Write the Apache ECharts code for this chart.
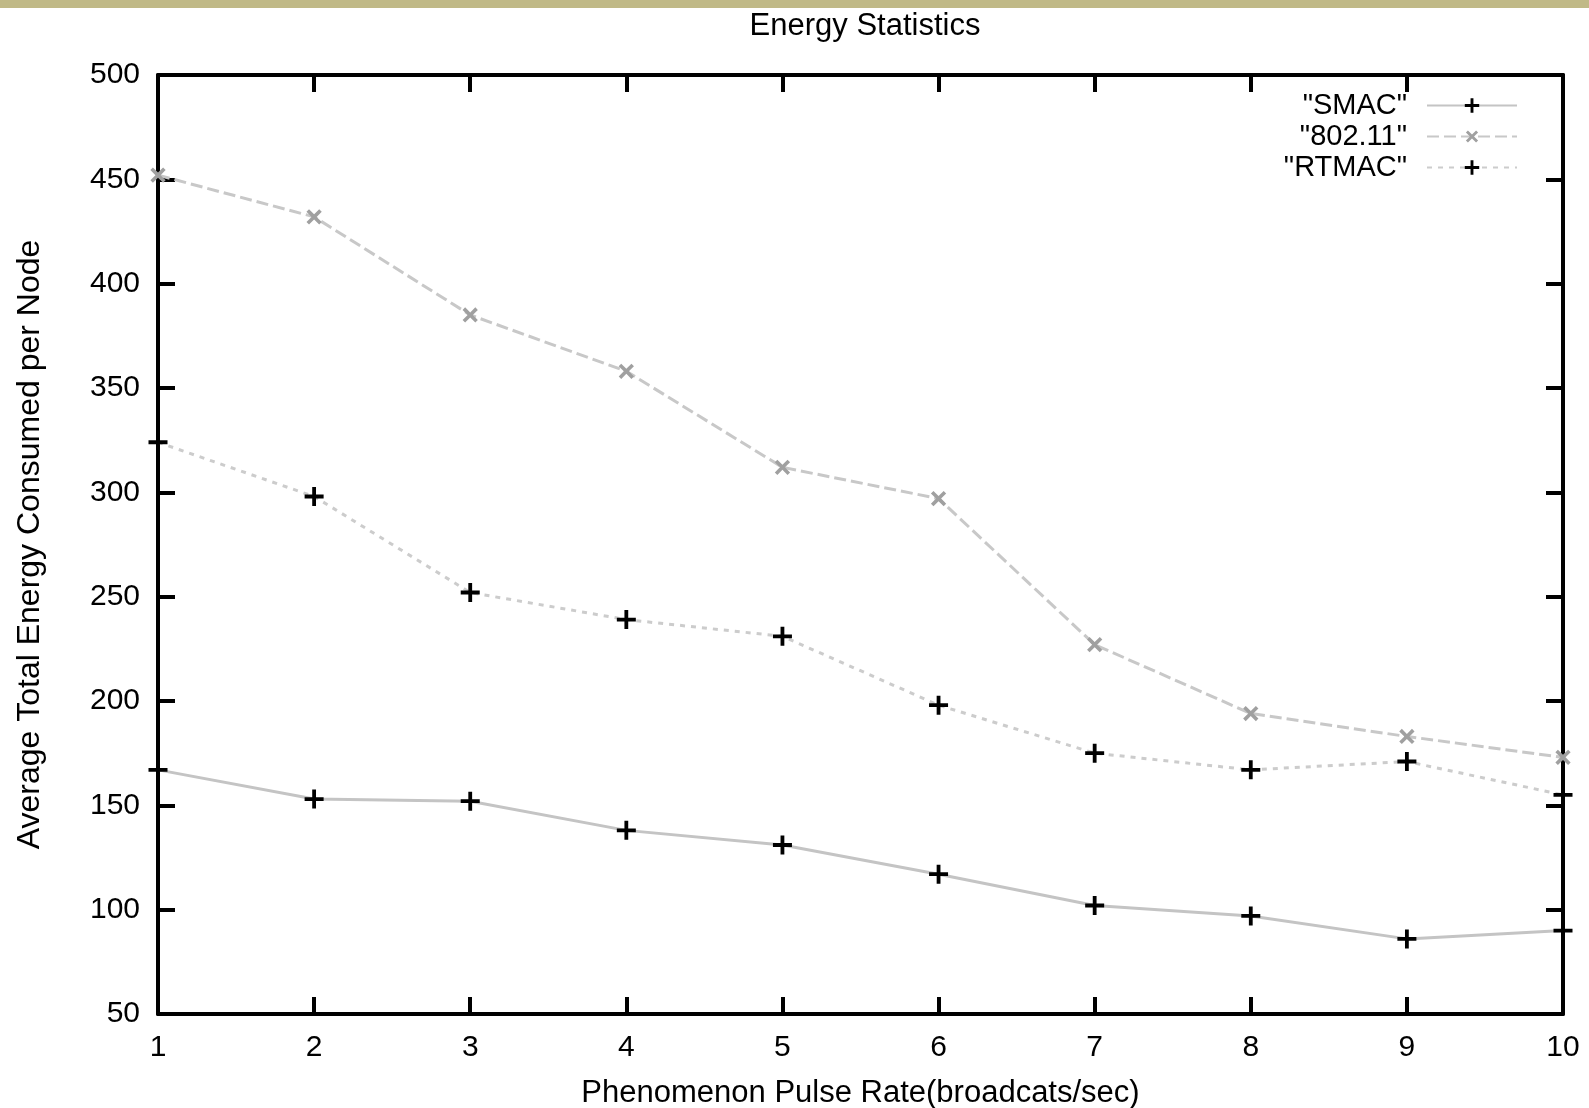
<!DOCTYPE html>
<html>
<head>
<meta charset="utf-8">
<script src="https://cdn.jsdelivr.net/npm/echarts@6/dist/echarts.min.js"></script>
<style>
html,body{margin:0;padding:0;background:#fff;}
#chart{width:1589px;height:1108px;}
</style>
</head>
<body>
<div id="chart"></div>
<script>
const xValues = [1, 2, 3, 4, 5, 6, 7, 8, 9, 10];
const smac = [167, 153, 152, 138, 131, 117, 102, 97, 86, 90];
const ieee80211 = [452, 432, 385, 358, 312, 297, 227, 194, 183, 173];
const rtmac = [324, 298, 252, 239, 231, 198, 175, 167, 171, 155];
const seriesNames = ['"SMAC"', '"802.11"', '"RTMAC"'];

const FONT = 'Liberation Sans, Arial, sans-serif';
const PLUS = 'path://M4,0H6V4H10V6H6V10H4V6H0V4H4Z';
const pairs = arr => xValues.map((x, i) => [x, arr[i]]);

const chart = echarts.init(document.getElementById('chart'), null, {renderer: 'canvas'});

const axisCommon = {
  axisLine: {show: true, lineStyle: {color: '#000', width: 4}},
  axisTick: {show: true, inside: true, length: 17, lineStyle: {color: '#000', width: 4}},
  splitLine: {show: false}
};

chart.setOption({
  animation: false,
  backgroundColor: '#fff',
  graphic: [{
    type: 'rect', left: 0, top: 0,
    shape: {width: 1589, height: 8},
    style: {fill: '#c0b987'}, silent: true
  }],
  title: {
    text: 'Energy Statistics',
    left: 860, top: 6, textAlign: 'center',
    textStyle: {fontFamily: FONT, fontSize: 31, fontWeight: 'normal', color: '#000'}
  },
  legend: {
    orient: 'vertical',
    right: 66, top: 86,
    align: 'right',
    itemWidth: 90, itemHeight: 18, itemGap: 2,
    textStyle: {fontFamily: FONT, fontSize: 29, color: '#000', padding: [0, 15, 0, 0]},
    data: seriesNames
  },
  grid: {left: 158, right: 26, top: 75, bottom: 94, containLabel: false, outerBoundsMode: 'none'},
  xAxis: [
    Object.assign({
      type: 'value', min: 1, max: 10, interval: 1, position: 'bottom',
      name: 'Phenomenon Pulse Rate(broadcats/sec)', nameLocation: 'middle', nameGap: 64,
      nameTextStyle: {fontFamily: FONT, fontSize: 31, color: '#000'},
      axisLabel: {fontFamily: FONT, fontSize: 30, color: '#000', margin: 19}
    }, axisCommon),
    Object.assign({
      type: 'value', min: 1, max: 10, interval: 1, position: 'top',
      axisLabel: {show: false}
    }, axisCommon)
  ],
  yAxis: [
    Object.assign({
      type: 'value', min: 50, max: 500, interval: 50, position: 'left',
      name: 'Average Total Energy Consumed per Node', nameLocation: 'middle', nameGap: 112,
      nameRotate: 90,
      nameTextStyle: {fontFamily: FONT, fontSize: 32, color: '#000'},
      axisLabel: {fontFamily: FONT, fontSize: 30, color: '#000', margin: 18}
    }, axisCommon),
    Object.assign({
      type: 'value', min: 50, max: 500, interval: 50, position: 'right',
      axisLabel: {show: false}
    }, axisCommon)
  ],
  series: [
    {
      name: seriesNames[0], type: 'line', data: pairs(smac),
      xAxisIndex: 0, yAxisIndex: 0, clip: false,
      symbol: PLUS, symbolSize: 19, showAllSymbol: true,
      lineStyle: {color: '#c4c4c4', width: 3, type: 'solid'},
      itemStyle: {color: '#000'}
    },
    {
      name: seriesNames[1], type: 'line', data: pairs(ieee80211),
      xAxisIndex: 0, yAxisIndex: 0, clip: false,
      symbol: PLUS, symbolSize: 18, symbolRotate: 45, showAllSymbol: true,
      lineStyle: {color: '#c8c8c8', width: 3, type: [12, 5]},
      itemStyle: {color: '#a0a0a0'}
    },
    {
      name: seriesNames[2], type: 'line', data: pairs(rtmac),
      xAxisIndex: 0, yAxisIndex: 0, clip: false,
      symbol: PLUS, symbolSize: 19, showAllSymbol: true,
      lineStyle: {color: '#cccccc', width: 3, type: [5, 6]},
      itemStyle: {color: '#000'}
    }
  ]
});
</script>
</body>
</html>
